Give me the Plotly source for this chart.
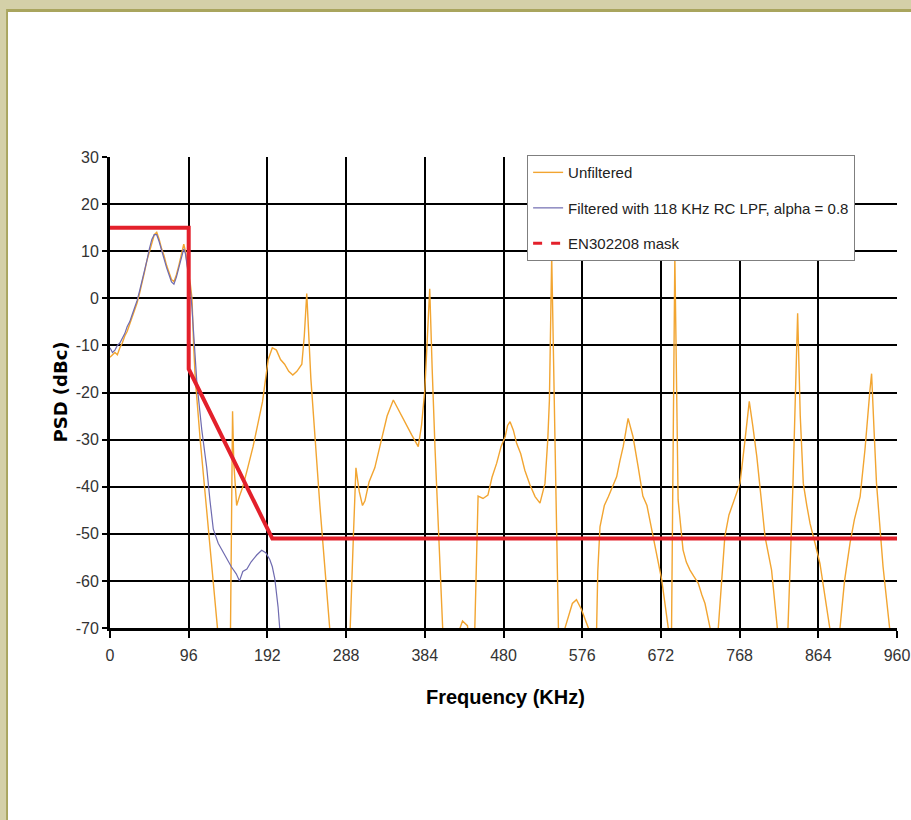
import plotly.graph_objects as go

# Unfiltered PSD (orange); < -70 dips leave the plot
unf_freq = [0, 3, 6, 9, 12, 15, 18, 21, 24, 27, 30, 33, 36, 39, 42, 45, 48, 51, 54, 57,
            60, 63, 66, 69, 72, 75, 78, 81, 84, 87, 90, 92, 94, 96, 98, 100, 102, 104, 110, 118,
            126, 131, 139, 147, 149.5, 151, 154.5, 158, 162, 168, 174.5, 180, 186, 193, 198, 203,
            208, 213, 218, 223, 228, 234, 237, 240, 242, 245, 256, 268, 280, 293,
            297, 300, 304, 308, 311, 316, 323, 331, 338, 345.6, 351.7, 360, 368, 376, 380, 384,
            387, 390, 393, 396.5, 405.8, 415, 425, 430, 436, 440, 445, 447, 449, 455,
            461, 466, 471.7, 477, 482, 485, 488, 492, 496, 501, 506, 512, 518.5, 524.5, 530.6, 534,
            536, 538.8, 541, 543, 547, 551, 555, 560, 564, 569, 572, 575, 583.5, 588,
            593.6, 595, 597.7, 603, 608, 613, 618, 622, 626, 632, 638, 644, 650, 655, 662.7, 668,
            673, 681, 683, 685, 689, 693, 699, 703, 707.5, 712, 717.6, 722, 725.8, 732,
            737, 742, 750, 755, 760, 768.5, 774, 779.8, 784, 789, 794, 799, 807, 814, 820, 827,
            833, 838.8, 842, 845.7, 850, 853.9, 860, 866, 878, 884, 890.5, 896, 902.7, 908,
            915, 921, 927, 929, 932, 935, 943, 951, 955]
unf_psd = [-12.5, -12, -11.5, -12, -10.5, -9.5, -8, -7, -5.5, -4, -2.5, -1, 1, 3, 5.5, 8, 10, 12, 13.5, 14,
           12.5, 10.5, 9, 7, 5.5, 4, 3.5, 5, 7, 9.5, 11.5, 10, 7, 5, 3, 0, -10, -17, -30, -45,
           -60, -70, -85, -70, -24, -35, -44, -42, -40, -36, -31.5, -27, -22, -13, -10.5, -11,
           -13, -14, -15.5, -16.3, -15.5, -14, -8, 1, -6, -17, -44, -70, -85, -70,
           -50, -36, -41, -44, -43, -39, -36, -30, -25, -21.6, -23.7, -26.5, -29, -31.5, -27, -19.5,
           -8, 2, -15, -32, -70, -85, -71, -68.5, -69.5, -75, -70, -55, -42, -42.5,
           -41.8, -38, -35, -31.5, -29.4, -27, -26.2, -28, -30.8, -33, -36.5, -39.5, -42.1, -43.5, -39.3, -30,
           -21.6, 9, -10, -32, -70, -85, -70, -67, -64.8, -64, -65, -66, -70, -85,
           -70, -58, -48.5, -44, -42.1, -40, -37.9, -34.5, -31.5, -25.5, -29.4, -35.5, -42, -44, -50.6, -55.5,
           -59.8, -70, -80, -70, 9, -42.8, -53.4, -56, -57.7, -59, -60.5, -63, -64.8, -70,
           -85, -70, -50.6, -46, -43.5, -39.3, -31, -21.9, -27, -33.6, -42, -50.6, -57.7, -70, -85, -70,
           -40, -3.2, -25, -39.3, -44, -47.8, -52, -56.3, -70, -85, -70, -60, -52, -47,
           -42.1, -32, -19.5, -16, -28, -39.3, -57, -70, -85]

# Filtered with 118 KHz RC LPF (slate blue)
filt_freq = [0, 3, 6, 9, 12, 15, 18, 21, 24, 27, 30, 33, 36, 39, 42, 45, 48, 51, 54, 57,
             60, 63, 66, 69, 72, 75, 78, 81, 84, 87, 90, 92, 94, 96, 98, 100, 103, 106, 112, 118,
             122, 126, 132, 138, 143, 148, 154, 158, 162, 167, 172, 179, 185, 190, 195, 198, 201, 205,
             207, 210]
filt_psd = [-10.5, -11.5, -11, -10, -9.5, -8.5, -7.5, -6, -5, -3.5, -2, -0.5, 1.5, 3.5, 6, 8, 10.5, 12.5, 13.5, 13.5,
            12, 10, 8, 6.5, 5, 3.5, 3, 4.5, 6.5, 8.5, 10.5, 9.5, 6.5, 4.5, 2, -2, -10, -18, -28, -36,
            -43, -49, -52, -54, -55.5, -57, -58.5, -60, -58, -57.5, -56, -54.5, -53.5, -54, -55.5, -57, -59.5, -65.5,
            -70, -85]

# EN302208 spectrum mask
mask_freq = [0, 96, 96, 198, 960]
mask_psd = [15, 15, -15, -51, -51]

x_ticks = [0, 96, 192, 288, 384, 480, 576, 672, 768, 864, 960]
y_ticks = [-70, -60, -50, -40, -30, -20, -10, 0, 10, 20, 30]

sans = "Liberation Sans, Arial, sans-serif"

fig = go.Figure()
fig.add_trace(go.Scatter(x=unf_freq, y=unf_psd, mode="lines", name="Unfiltered",
                         legendgroup="a", line=dict(color="#F2A531", width=1.4)))
fig.add_trace(go.Scatter(x=filt_freq, y=filt_psd, mode="lines",
                         name="Filtered with 118 KHz RC LPF, alpha = 0.8",
                         legendgroup="b", line=dict(color="#6F6BB0", width=1.2)))
fig.add_trace(go.Scatter(x=mask_freq, y=mask_psd, mode="lines", showlegend=False,
                         line=dict(color="#E3202B", width=4)))
# legend sample for the mask is drawn dashed, as in the original
fig.add_trace(go.Scatter(x=[None], y=[None], mode="lines", name="EN302208 mask",
                         legendgroup="c", line=dict(color="#E3202B", width=3, dash="dash")))

fig.update_xaxes(range=[0, 960], tickvals=x_ticks, ticktext=[str(v) for v in x_ticks],
                 automargin=False, showgrid=True, gridcolor="black", gridwidth=1.5,
                 showline=True, linecolor="black", linewidth=3, ticks="outside", ticklen=7,
                 tickwidth=2, tickcolor="black", zeroline=False, ticklabelstandoff=4,
                 tickfont=dict(family=sans, size=16, color="#333333"))
fig.update_yaxes(range=[-70, 30], tickvals=y_ticks, ticktext=[str(v) for v in y_ticks],
                 automargin=False, showgrid=True, gridcolor="black", gridwidth=2,
                 showline=True, linecolor="black", linewidth=3, ticks="outside", ticklen=5,
                 tickwidth=2, tickcolor="black", zeroline=False,
                 tickfont=dict(family=sans, size=16, color="#333333"))

# khaki frame on top and left edges
fig.add_shape(type="rect", xref="paper", yref="paper", x0=-0.15, x1=1.03, y0=1.3142, y1=1.35,
              fillcolor="#D4D0A8", line_width=0, layer="below")
fig.add_shape(type="rect", xref="paper", yref="paper", x0=-0.1321, x1=1.03, y0=1.3079, y1=1.3142,
              fillcolor="#A9A55E", line_width=0, layer="below")
fig.add_shape(type="rect", xref="paper", yref="paper", x0=-0.15, x1=-0.1321, y0=-0.42, y1=1.3142,
              fillcolor="#D4D0A8", line_width=0, layer="below")
fig.add_shape(type="rect", xref="paper", yref="paper", x0=-0.1321, x1=-0.1296, y0=-0.42, y1=1.3079,
              fillcolor="#A9A55E", line_width=0, layer="below")

fig.add_annotation(text="<b>Frequency (KHz)</b>", xref="paper", yref="paper", x=0.502, y=-0.1465,
                   xanchor="center", yanchor="middle", showarrow=False,
                   font=dict(family=sans, size=20, color="black"))
fig.add_annotation(text="<b>PSD (dBc)</b>", xref="paper", yref="paper", x=-0.0635, y=0.5,
                   xanchor="center", yanchor="middle", textangle=-90, showarrow=False,
                   font=dict(family="DejaVu Sans, sans-serif", size=18, color="black"))

fig.update_layout(
    width=911, height=820,
    margin=dict(l=110, r=14, t=157, b=192),
    paper_bgcolor="white", plot_bgcolor="white",
    legend=dict(x=0.530, y=1.004, xanchor="left", yanchor="top", bgcolor="white",
                bordercolor="#7F7F7F", borderwidth=1, tracegroupgap=13,
                font=dict(family=sans, size=15, color="#222222")),
)
fig.write_html("out.html", config={"displayModeBar": False},
               post_script="document.body.style.margin = '0';")
